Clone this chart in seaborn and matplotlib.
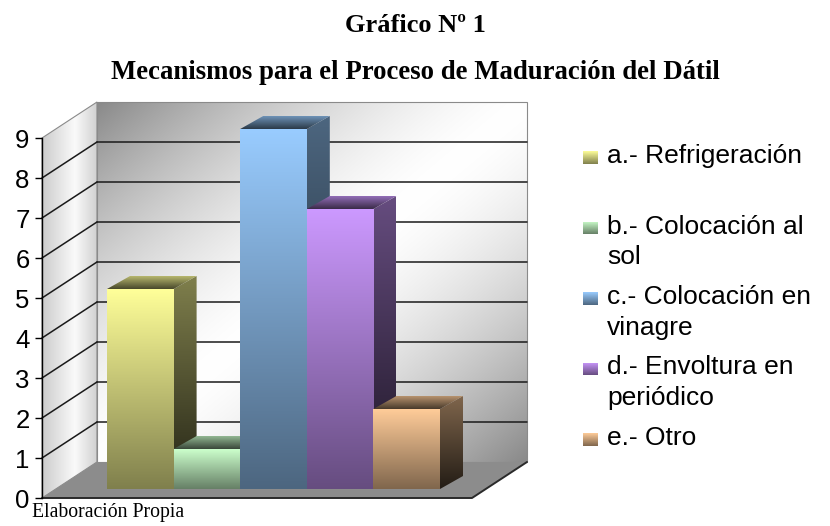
import numpy as np
import matplotlib
matplotlib.use("Agg")
import matplotlib.pyplot as plt
import seaborn as sns
from matplotlib.patches import Polygon
from matplotlib.colors import to_rgb

# data
categories = ["a.- Refrigeración", "b.- Colocación al sol", "c.- Colocación en vinagre",
              "d.- Envoltura en periódico", "e.- Otro"]
legend_labels = ["a.- Refrigeración", "b.- Colocación al\nsol", "c.- Colocación en\nvinagre",
                 "d.- Envoltura en\nperiódico", "e.- Otro"]
values = [5, 1, 9, 7, 2]
colors = ["#FFFF99", "#CCFFCC", "#99CCFF", "#CC99FF", "#FFCC99"]
yticks = list(range(10))

sns.set_style("white")
plt.rcParams["font.family"] = ["Liberation Sans", "DejaVu Sans"]

W_PX, H_PX = 830, 526
CW, VU = 66.6, 40.0      # pixels per category / per unit
X0, Y0 = 107, 489        # left edge of first bar, baseline of bar fronts


def px2x(px):
    return (px - X0) / CW - 0.5


def py2y(py):
    return (Y0 - py) / VU


def shade(c, f):
    return np.clip(np.array(to_rgb(c)) * f, 0, 1)


def vgrad(c_top, c_bot, n=256):
    t = np.linspace(0, 1, n)[:, None]
    return ((1 - t) * c_bot + t * c_top)[:, None, :]


def image_face(ax, verts, img, z, clip=None):
    if clip is None:
        clip = Polygon(verts, closed=True, facecolor="none", edgecolor="none", zorder=z)
        ax.add_patch(clip)
    xs, ys = zip(*verts)
    im = ax.imshow(img, extent=(min(xs), max(xs), min(ys), max(ys)), origin="lower",
                   aspect="auto", zorder=z, interpolation="bilinear")
    im.set_clip_path(clip)
    return im


fig = plt.figure(figsize=(W_PX / 100, H_PX / 100), dpi=100)
ax = fig.add_axes([0, 0, 1, 1])

sns.barplot(x=categories, y=values, hue=categories, palette=colors, legend=False,
            width=1.0, saturation=1, linewidth=0, ax=ax)
bars = sorted(ax.patches, key=lambda p: p.get_x())

# --- walls and floor ---
top = max(yticks)
fx0, fx1 = px2x(42), px2x(472)
FY = py2y(498)
DX, DY = 55 / CW, 36 / VU

side = [(fx0, FY), (fx0 + DX, FY + DY), (fx0 + DX, FY + DY + top), (fx0, FY + top)]
xx = np.linspace(0, 1, 200)
g = np.interp(xx, [0, 0.6, 1], [0.80, 0.98, 0.82])
side_img = np.repeat(np.stack([g, g, g], axis=-1)[None, :, :], 2, axis=0)
image_face(ax, side, side_img, 0.1)
ax.add_patch(Polygon(side, closed=True, fill=False, edgecolor="#8a8a8a", lw=0.8, zorder=0.2))

back = [(fx0 + DX, FY + DY), (fx1 + DX, FY + DY), (fx1 + DX, FY + DY + top), (fx0 + DX, FY + DY + top)]
gx, gy = np.meshgrid(np.linspace(0, 1, 200), np.linspace(0, 1, 200))
t = (gx + (1 - gy)) / 2
g = 1 - 0.46 * np.abs(2 * t - 1) ** 1.5
back_img = np.stack([g, g, g], axis=-1)
image_face(ax, back, back_img, 0.1)
ax.add_patch(Polygon(back, closed=True, fill=False, edgecolor="#8a8a8a", lw=0.8, zorder=0.2))

# gridlines on the walls
for v in yticks[1:-1]:
    ax.plot([fx0, fx0 + DX], [FY + v, FY + DY + v], color="#1a1a1a", lw=1.1, zorder=0.5)
    ax.plot([fx0 + DX, fx1 + DX], [FY + DY + v, FY + DY + v], color="#1a1a1a", lw=1.1, zorder=0.5)

floor = [(fx0, FY), (fx1, FY), (fx1 + DX, FY + DY), (fx0 + DX, FY + DY)]
ax.add_patch(Polygon(floor, closed=True, facecolor="#8c8c8c", edgecolor="none", zorder=0.6))
ax.plot([fx0, fx1, fx1 + DX], [FY, FY, FY + DY], color="#2a2a2a", lw=1.4, zorder=0.7)

# --- 3D bars ---
BX, BY = 23 / CW, 13 / VU
for i, (p, c) in enumerate(zip(bars, colors)):
    x0, w, h = p.get_x(), p.get_width(), p.get_height()
    x1 = x0 + w
    z = 1 + 3 * i
    side_v = [(x1, 0), (x1 + BX, BY), (x1 + BX, h + BY), (x1, h)]
    image_face(ax, side_v, vgrad(shade(c, 0.5), shade(c, 0.14)), z)
    top_v = [(x0, h), (x1, h), (x1 + BX, h + BY), (x0 + BX, h + BY)]
    image_face(ax, top_v, vgrad(shade(c, 0.72), shade(c, 0.28)), z + 1)
    p.set_zorder(z + 2)
    image_face(ax, [(x0, 0), (x1, 0), (x1, h), (x0, h)], vgrad(shade(c, 1.0), shade(c, 0.5)),
               z + 2.1, clip=p)

ax.set_xlim(px2x(0), px2x(W_PX))
ax.set_ylim(py2y(H_PX), py2y(0))
ax.axis("off")

# --- value axis on the left wall ---
ay = fig.add_axes([42 / W_PX, (H_PX - 498) / H_PX, 55 / W_PX, 360 / H_PX])
ay.set_ylim(0, top)
ay.set_yticks(yticks)
ay.set_yticklabels([str(v) for v in yticks], fontsize=18.5)
ay.set_xticks([])
ay.tick_params(axis="y", direction="out", length=5, width=1, pad=4, left=True, colors="black")
for s in ["top", "right", "bottom"]:
    ay.spines[s].set_visible(False)
ay.spines["left"].set_color("black")
ay.spines["left"].set_linewidth(1)
ay.patch.set_visible(False)

# --- legend (pixel overlay) ---
ov = fig.add_axes([0, 0, 1, 1])
ov.set_xlim(0, W_PX)
ov.set_ylim(H_PX, 0)
ov.axis("off")
for i, (lab, c) in enumerate(zip(legend_labels, colors)):
    base = 163 + 70.5 * i
    sq = [(583, base + 1), (598, base + 1), (598, base - 12), (583, base - 12)]
    image_face(ov, sq, vgrad(shade(c, 0.5), shade(c, 1.0)), 5)
    for k, line in enumerate(lab.split("\n")):
        ov.text(607, base + 31 * k, line, fontsize=19, va="baseline", ha="left", color="black")
ov.set_xlim(0, W_PX)
ov.set_ylim(H_PX, 0)

# titles and note
fig.text(0.5, 1 - 25 / H_PX, "Gráfico Nº 1", ha="center", va="center", fontsize=19,
         fontweight="bold", family="Liberation Serif", color="black")
fig.text(0.5, 1 - 72 / H_PX, "Mecanismos para el Proceso de Maduración del Dátil",
         ha="center", va="center", fontsize=19.3, fontweight="bold", family="Liberation Serif",
         color="black")
fig.text(32 / W_PX, 1 - 517 / H_PX, "Elaboración Propia", ha="left", va="baseline",
         fontsize=14.2, family="Liberation Serif", color="black")

fig.savefig("out.png", dpi=100, facecolor="white")
